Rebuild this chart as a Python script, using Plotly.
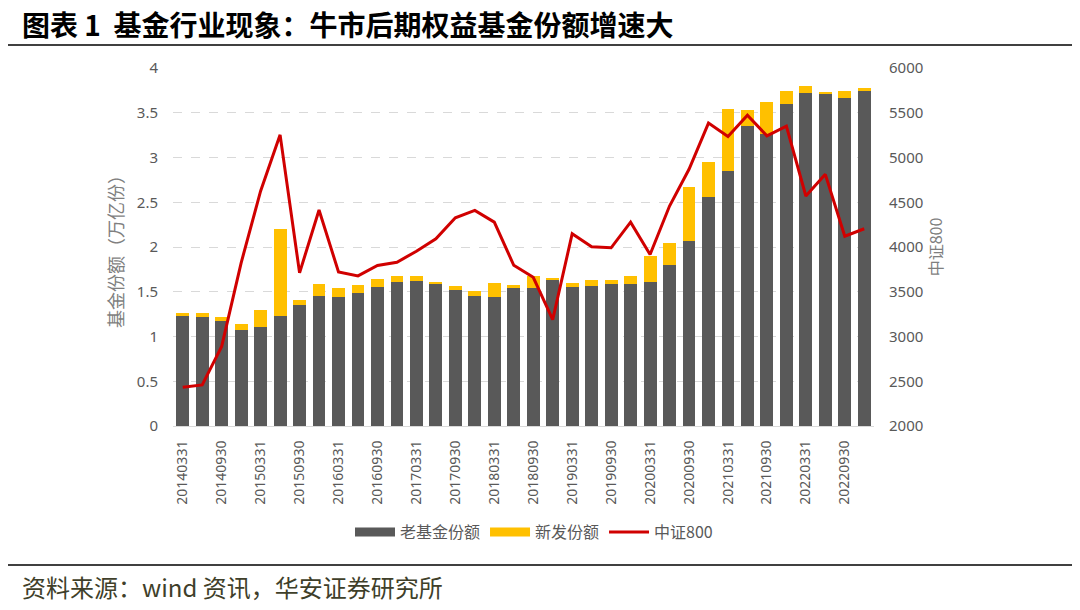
import plotly.graph_objects as go

quarters = []
for y in range(2014, 2023):
    for md in ["0331", "0630", "0930", "1231"]:
        quarters.append(f"{y}{md}")

old_funds = [1.232, 1.221, 1.173, 1.072, 1.102, 1.232, 1.356, 1.457, 1.445, 1.483,
             1.554, 1.606, 1.625, 1.587, 1.524, 1.457, 1.445, 1.542, 1.542, 1.636,
             1.554, 1.569, 1.587, 1.587, 1.606, 1.796, 2.065, 2.558, 2.850, 3.354,
             3.260, 3.593, 3.716, 3.716, 3.664, 3.742]
total_funds = [1.262, 1.262, 1.214, 1.143, 1.292, 2.200, 1.412, 1.584, 1.546, 1.576,
               1.647, 1.677, 1.677, 1.606, 1.569, 1.513, 1.602, 1.576, 1.677, 1.647,
               1.602, 1.636, 1.636, 1.677, 1.905, 2.047, 2.670, 2.951, 3.541, 3.533,
               3.623, 3.742, 3.802, 3.731, 3.742, 3.776]
new_funds = [round(t - o, 3) for t, o in zip(total_funds, old_funds)]
csi800 = [2433, 2459, 2889, 3823, 4626, 5253, 3711, 4413, 3722, 3677,
          3793, 3830, 3953, 4091, 4327, 4409, 4278, 3796, 3662, 3188,
          4148, 4002, 3991, 4278, 3916, 4458, 4868, 5384, 5234, 5473,
          5242, 5350, 4570, 4812, 4121, 4204]

GREY, YELLOW, RED = "#595959", "#FFC000", "#D00000"

L, R, T, B = 173, 874, 68, 426
W, H = 1080, 610

def px(x):
    return (x - L) / (R - L)

def py(y):
    return (B - y) / (B - T)

num_font = dict(family="Noto Sans, Noto Sans CJK SC", size=15, color="#595959")

fig = go.Figure()
fig.add_trace(go.Bar(x=quarters, y=old_funds, name="老基金份额", marker_color=GREY,
                     marker_line_width=0, showlegend=False))
fig.add_trace(go.Bar(x=quarters, y=new_funds, name="新发份额", marker_color=YELLOW,
                     marker_line_width=0, showlegend=False))
fig.add_trace(go.Scatter(x=quarters, y=csi800, name="中证800", yaxis="y2", mode="lines",
                         line=dict(color=RED, width=3), showlegend=False))
# legend entries (wide rectangles like the reference)
fig.add_trace(go.Scatter(x=[None], y=[None], name="老基金份额", mode="lines",
                         line=dict(color=GREY, width=9)))
fig.add_trace(go.Scatter(x=[None], y=[None], name="新发份额", mode="lines",
                         line=dict(color=YELLOW, width=9)))
fig.add_trace(go.Scatter(x=[None], y=[None], name="中证800", mode="lines",
                         line=dict(color=RED, width=3)))

fig.update_layout(
    width=W, height=H,
    margin=dict(l=L, r=W - R, t=T, b=H - B),
    paper_bgcolor="white", plot_bgcolor="white",
    barmode="stack", bargap=0.34,
    font=dict(family="Noto Sans CJK SC", color="#595959"),
    xaxis=dict(type="category", tickmode="array", tickvals=quarters[::2],
               ticktext=quarters[::2], tickangle=-90,
               tickfont=dict(family="Noto Sans, Noto Sans CJK SC", size=14, color="#595959"),
               showline=True, linecolor="#D9D9D9", linewidth=1, ticks="",
               showgrid=False, ticklabelstandoff=8),
    yaxis=dict(range=[0, 4], dtick=0.5, tickfont=num_font, showgrid=True,
               gridcolor="#D9D9D9", griddash="dash", gridwidth=1, zeroline=False,
               ticks="", ticklabelstandoff=14,
               title=dict(text="基金份额（万亿份）",
                          font=dict(family="Noto Sans CJK SC", size=18, color="#7f7f7f"),
                          standoff=8)),
    yaxis2=dict(range=[2000, 6000], dtick=500, overlaying="y", side="right",
                tickfont=num_font, showgrid=False, zeroline=False, ticks="",
                ticklabelstandoff=14,
                title=dict(text="中证800", font=dict(family="Noto Sans CJK SC", size=16, color="#7f7f7f"),
                           standoff=8)),
    legend=dict(orientation="h", x=px(534), xanchor="center", y=py(532), yanchor="middle",
                font=dict(family="Noto Sans CJK SC", size=16, color="#595959"),
                traceorder="normal", itemwidth=40, tracegroupgap=0),
    showlegend=True,
)

fig.add_annotation(text="<b>图表 1  基金行业现象：牛市后期权益基金份额增速大</b>",
                   xref="paper", yref="paper", x=px(20), y=py(24), xanchor="left",
                   yanchor="middle", showarrow=False,
                   font=dict(family="Noto Sans CJK SC", size=28, color="#000000"))
fig.add_annotation(text="资料来源：wind 资讯，华安证券研究所",
                   xref="paper", yref="paper", x=px(20), y=py(586), xanchor="left",
                   yanchor="middle", showarrow=False,
                   font=dict(family="Noto Sans CJK SC", size=24, color="#3f3f2a"))
fig.add_shape(type="line", xref="paper", yref="paper", x0=px(8), x1=px(1072),
              y0=py(45), y1=py(45), line=dict(color="#404040", width=2))
fig.add_shape(type="line", xref="paper", yref="paper", x0=px(8), x1=px(1072),
              y0=py(565), y1=py(565), line=dict(color="#404040", width=2))

fig.write_html("out.html")
